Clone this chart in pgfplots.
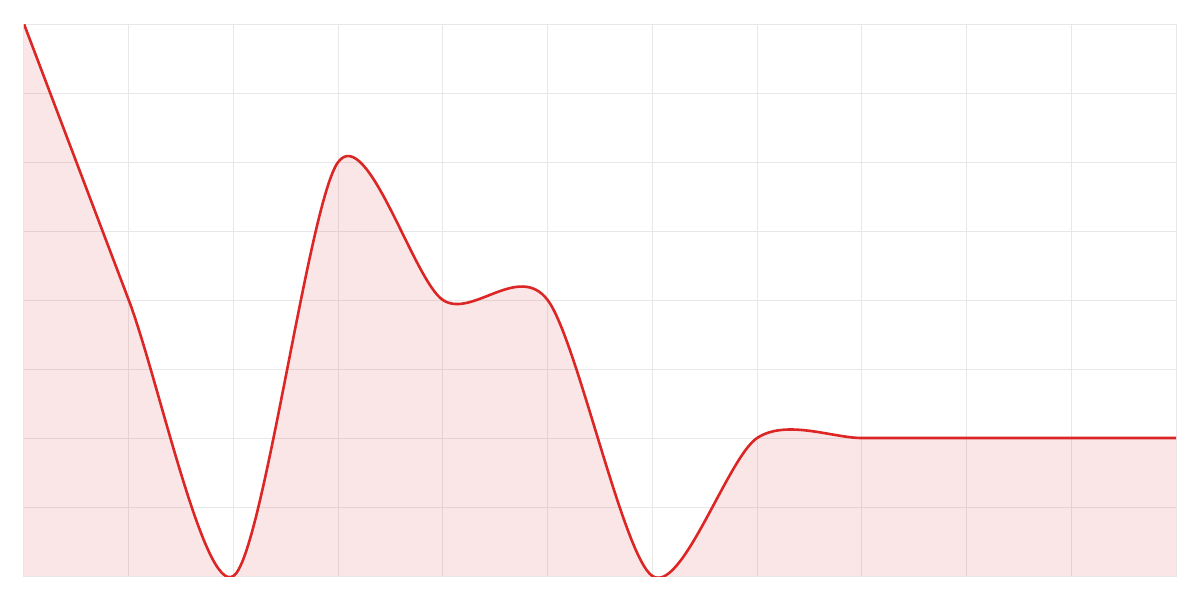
\documentclass[border=0pt]{standalone}
\usepackage{pgfplots}
\pgfplotsset{compat=1.18}
\definecolor{linered}{RGB}{220,38,38}
\definecolor{fillred}{RGB}{214,60,60}
\definecolor{gridgray}{RGB}{232,232,232}
\begin{document}
\begin{tikzpicture}
\useasboundingbox (-12pt,-12pt) rectangle (588pt,288pt);
\begin{axis}[
  at={(0,0)}, anchor=south west,
  scale only axis,
  width=576pt, height=276pt,
  xmin=0, xmax=11, ymin=0, ymax=8,
  xtick={0,...,11}, ytick={0,...,8},
  xticklabels={}, yticklabels={},
  major tick length=0pt,
  grid=major,
  grid style={gridgray, line width=0.5pt},
  axis line style={gridgray, line width=0.5pt},
  clip=true,
]
\addplot[draw=none, fill=fillred, fill opacity=0.13, smooth, tension=0.5] coordinates {
 (0,8) (1,4) (2,0) (3,6) (4,4) (5,4) (6,0) (7,2) (8,2) (9,2) (10,2) (11,2)
} \closedcycle;
\addplot[linered, line width=1.3pt, smooth, tension=0.5] coordinates {
 (0,8) (1,4) (2,0) (3,6) (4,4) (5,4) (6,0) (7,2) (8,2) (9,2) (10,2) (11,2)
};
\end{axis}
\end{tikzpicture}
\end{document}
